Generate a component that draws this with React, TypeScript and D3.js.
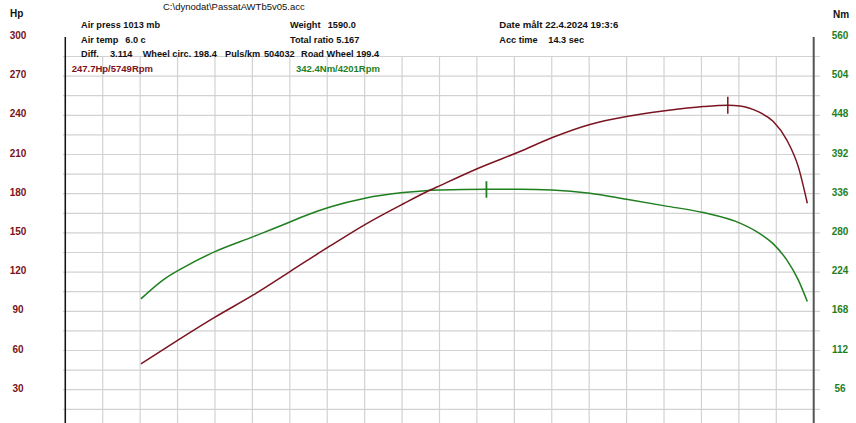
import React from "react";
import * as d3 from "d3";

const W = 856;
const H = 423;

// Data
const rpmHp = [1985, 2225, 2460, 2706, 2941, 3198, 3422, 3668, 3818, 3903, 4149, 4416, 4620, 4865, 5100, 5346, 5592, 5752, 5827, 5944, 6041, 6127, 6201, 6259];
const hpValues = [49.7, 68.1, 85.5, 102.5, 120.4, 140, 156.4, 172.3, 181.5, 186.2, 199.5, 212.3, 222.8, 233.0, 239, 243.4, 246.7, 247.7, 247.2, 242.8, 235.2, 221.2, 200.7, 172.7];

const rpmNm = [1985, 2128, 2257, 2460, 2706, 2941, 3026, 3198, 3422, 3668, 3903, 4203, 4416, 4620, 4865, 5100, 5346, 5592, 5827, 5944, 6041, 6127, 6201, 6259];
const nmValues = [185.7, 212.9, 230.4, 253.3, 274.7, 295.5, 303.5, 317.0, 329.6, 337.6, 341.4, 342.4, 342.4, 341.4, 336.7, 328.0, 318.6, 309.0, 293.9, 280.4, 264.3, 241.4, 212.9, 181.9];

const hpTicks = [30, 60, 90, 120, 150, 180, 210, 240, 270, 300];
const nmTicks = [56, 112, 168, 224, 280, 336, 392, 448, 504, 560];
const peakHp = { rpm: 5749, value: 247.7, label: "247.7Hp/5749Rpm" };
const peakNm = { rpm: 4201, value: 342.4, label: "342.4Nm/4201Rpm" };

const title = "C:\\dynodat\\PassatAWTb5v05.acc";

const HP_COLOR = "#7a1420";
const NM_COLOR = "#1f7f1f";
const GRID = "#d2d2d2";
const FONT = "'Liberation Sans', Arial, sans-serif";

export default function App() {
  const x = d3.scaleLinear().domain([1500, 6300]).range([65.3, 813.7]);
  const yHp = d3.scaleLinear().domain([0, 300]).range([428.9, 36.9]);
  const yNm = d3.scaleLinear().domain([0, 560]).range([428.9, 36.9]);

  const hpLine = d3
    .line<number>()
    .x((_, i) => x(rpmHp[i]))
    .y((d) => yHp(d))
    .curve(d3.curveMonotoneX)(hpValues) as string;
  const nmLine = d3
    .line<number>()
    .x((_, i) => x(rpmNm[i]))
    .y((d) => yNm(d))
    .curve(d3.curveMonotoneX)(nmValues) as string;

  const hGrid = d3.range(0, 300, 15);
  const vGrid = d3.range(1500, 6301, 240);
  const gridTop = yHp(285);

  const txt = (s: string, xx: number, yy: number, extra: any = {}) => (
    <text x={xx} y={yy} fontFamily={FONT} fontSize={9.2} fontWeight="bold" fill="#111" {...extra}>
      {s}
    </text>
  );

  return (
    <svg
      width={W}
      height={H}
      style={{ position: "absolute", left: 0, top: 0, background: "#fff" }}
    >
      <rect x={0} y={0} width={W} height={H} fill="#fff" />
      {/* grid */}
      {hGrid.map((v) => (
        <line key={"h" + v} x1={63} x2={820} y1={yHp(v)} y2={yHp(v)} stroke={GRID} strokeWidth={1.2} />
      ))}
      {vGrid.map((r) => (
        <line key={"v" + r} x1={x(r)} x2={x(r)} y1={gridTop} y2={H} stroke={GRID} strokeWidth={1.2} />
      ))}
      {/* axes */}
      <line x1={x(1500)} x2={x(1500)} y1={37} y2={H} stroke="#111" strokeWidth={1.5} />
      <line x1={x(6300)} x2={x(6300)} y1={37} y2={H} stroke="#555" strokeWidth={2} />

      {/* axis titles and tick labels */}
      <text x={10} y={16.6} fontFamily={FONT} fontSize={10} fontWeight="bold" fill="#111">Hp</text>
      <text x={833} y={17.6} fontFamily={FONT} fontSize={10} fontWeight="bold" fill="#111">Nm</text>
      {hpTicks.map((t) => (
        <text key={"ht" + t} x={18} y={yHp(t) + 2} textAnchor="middle" fontFamily={FONT} fontSize={10} fontWeight="bold" fill={HP_COLOR}>
          {t}
        </text>
      ))}
      {nmTicks.map((t) => (
        <text key={"nt" + t} x={840} y={yNm(t) + 2} textAnchor="middle" fontFamily={FONT} fontSize={10} fontWeight="bold" fill={NM_COLOR}>
          {t}
        </text>
      ))}

      {/* header */}
      {txt(title, 163, 9.6, { fontWeight: "normal", fontSize: 9.5 })}
      {txt("Air press", 81, 28.4)}
      {txt("1013 mb", 123.3, 28.4)}
      {txt("Weight", 290, 28.4)}
      {txt("1590.0", 327.7, 28.4)}
      {txt("Date målt 22.4.2024 19:3:6", 499.3, 28.4, { fontSize: 9.6 })}
      {txt("Air temp", 81, 42.7)}
      {txt("6.0 c", 125.3, 42.7)}
      {txt("Total ratio 5.167", 290, 42.7)}
      {txt("Acc time", 499.3, 42.7)}
      {txt("14.3 sec", 548.3, 42.7)}
      {txt("Diff.", 81, 56.7)}
      {txt("3.114", 110, 56.7)}
      {txt("Wheel circ. 198.4", 142.7, 56.7)}
      {txt("Puls/km", 225, 56.7)}
      {txt("504032", 264, 56.7)}
      {txt("Road Wheel 199.4", 301, 56.7)}
      {txt(peakHp.label, 71.7, 72.4, { fill: HP_COLOR, fontSize: 9.5 })}
      {txt(peakNm.label, 296, 72.4, { fill: NM_COLOR, fontSize: 9.5 })}

      {/* curves */}
      <path d={nmLine} fill="none" stroke={NM_COLOR} strokeWidth={1.5} />
      <path d={hpLine} fill="none" stroke={HP_COLOR} strokeWidth={1.5} />

      {/* peak markers */}
      <line x1={x(peakHp.rpm)} x2={x(peakHp.rpm)} y1={yHp(peakHp.value) - 8.5} y2={yHp(peakHp.value) + 8.5} stroke={HP_COLOR} strokeWidth={1.5} />
      <line x1={x(peakNm.rpm)} x2={x(peakNm.rpm)} y1={yNm(peakNm.value) - 8} y2={yNm(peakNm.value) + 8.5} stroke={NM_COLOR} strokeWidth={1.8} />
    </svg>
  );
}
